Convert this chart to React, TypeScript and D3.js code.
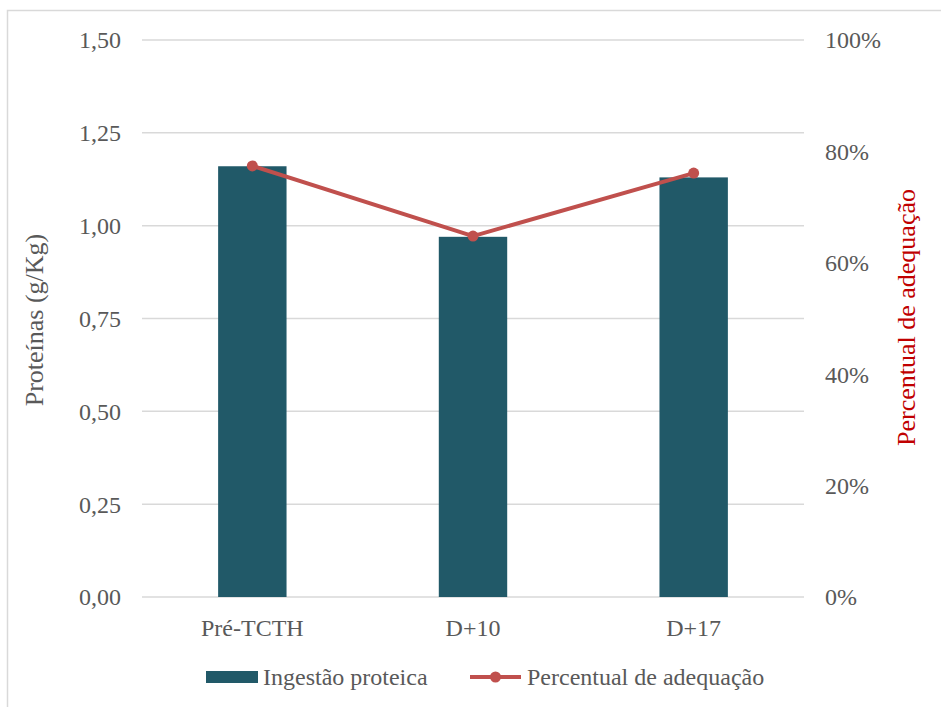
import React, { useEffect, useRef } from 'react';
import * as d3 from 'd3';

const categories = ['Pré-TCTH', 'D+10', 'D+17'];
const protein = [1.16, 0.97, 1.13];
const adequacy = [0.774, 0.648, 0.761];
const leftTicks = [0, 0.25, 0.5, 0.75, 1.0, 1.25, 1.5];
const rightTicks = [0, 0.2, 0.4, 0.6, 0.8, 1.0];

const BAR = '#215968';
const LINE = '#C0504D';
const TEXT = '#595959';
const GRID = '#D9D9D9';
const FONT = "Liberation Serif, DejaVu Serif, serif";

const App: React.FC = () => {
  const ref = useRef<SVGSVGElement>(null);

  useEffect(() => {
    if (!ref.current) return;
    const svg = d3.select(ref.current);
    svg.selectAll('*').remove();

    const left = 142, right = 804, top = 40, bottom = 597;

    const x = d3.scaleBand().domain(categories).range([left, right]).paddingInner(0.69).paddingOuter(0.345);
    const yL = d3.scaleLinear().domain([0, 1.5]).range([bottom, top]);
    const yR = d3.scaleLinear().domain([0, 1]).range([bottom, top]);

    // chart border
    svg.append('rect')
      .attr('x', 7.5).attr('y', 10.5)
      .attr('width', 960).attr('height', 720)
      .attr('fill', 'none').attr('stroke', GRID).attr('stroke-width', 1.5);

    // gridlines
    svg.append('g').selectAll('line')
      .data(leftTicks)
      .enter().append('line')
      .attr('x1', left).attr('x2', right)
      .attr('y1', d => yL(d)).attr('y2', d => yL(d))
      .attr('stroke', GRID).attr('stroke-width', 1.5);

    const fmt = (d: number) => d.toFixed(2).replace('.', ',');

    const g = svg.append('g')
      .attr('font-family', FONT)
      .attr('font-size', 24)
      .attr('fill', TEXT);

    g.append('g').selectAll('text')
      .data(leftTicks)
      .enter().append('text')
      .attr('x', 121).attr('y', d => yL(d))
      .attr('dy', '0.35em')
      .attr('text-anchor', 'end')
      .text(fmt);

    g.append('g').selectAll('text')
      .data(rightTicks)
      .enter().append('text')
      .attr('x', 825).attr('y', d => yR(d))
      .attr('dy', '0.35em')
      .text(d => `${Math.round(d * 100)}%`);

    // bars
    svg.append('g').selectAll('rect')
      .data(categories)
      .enter().append('rect')
      .attr('x', d => x(d)!)
      .attr('width', x.bandwidth())
      .attr('y', (d, i) => yL(protein[i]))
      .attr('height', (d, i) => bottom - yL(protein[i]))
      .attr('fill', BAR);

    // category labels
    g.append('g').selectAll('text')
      .data(categories)
      .enter().append('text')
      .attr('x', d => x(d)! + x.bandwidth() / 2)
      .attr('y', 628)
      .attr('dy', '0.35em')
      .attr('text-anchor', 'middle')
      .text(d => d);

    // line
    const line = d3.line<number>()
      .x((d, i) => x(categories[i])! + x.bandwidth() / 2)
      .y(d => yR(d));

    svg.append('path')
      .datum(adequacy)
      .attr('d', line)
      .attr('fill', 'none')
      .attr('stroke', LINE)
      .attr('stroke-width', 4)
      .attr('stroke-linejoin', 'round');

    svg.append('g').selectAll('circle')
      .data(adequacy)
      .enter().append('circle')
      .attr('cx', (d, i) => x(categories[i])! + x.bandwidth() / 2)
      .attr('cy', d => yR(d))
      .attr('r', 5.5)
      .attr('fill', LINE);

    // axis titles
    g.append('text')
      .attr('transform', `translate(34,320) rotate(-90)`)
      .attr('dy', '0.35em')
      .attr('text-anchor', 'middle')
      .attr('font-size', 26)
      .text('Proteínas (g/Kg)');

    g.append('text')
      .attr('transform', `translate(906,317.5) rotate(-90)`)
      .attr('dy', '0.35em')
      .attr('text-anchor', 'middle')
      .attr('font-size', 26)
      .attr('fill', '#C00000')
      .text('Percentual de adequação');

    // legend
    const ly = 677;
    svg.append('rect')
      .attr('x', 206).attr('y', ly - 6)
      .attr('width', 52).attr('height', 12)
      .attr('fill', BAR);
    g.append('text')
      .attr('x', 263).attr('y', ly).attr('dy', '0.35em')
      .text('Ingestão proteica');

    svg.append('line')
      .attr('x1', 470).attr('x2', 521)
      .attr('y1', ly).attr('y2', ly)
      .attr('stroke', LINE).attr('stroke-width', 4);
    svg.append('circle')
      .attr('cx', 495.5).attr('cy', ly).attr('r', 5.5)
      .attr('fill', LINE);
    g.append('text')
      .attr('x', 527).attr('y', ly).attr('dy', '0.35em')
      .text('Percentual de adequação');
  }, []);

  return (
    <svg
      ref={ref}
      width={941}
      height={707}
      style={{ position: 'absolute', left: 0, top: 0, display: 'block', background: '#fff' }}
    />
  );
};

export default App;
